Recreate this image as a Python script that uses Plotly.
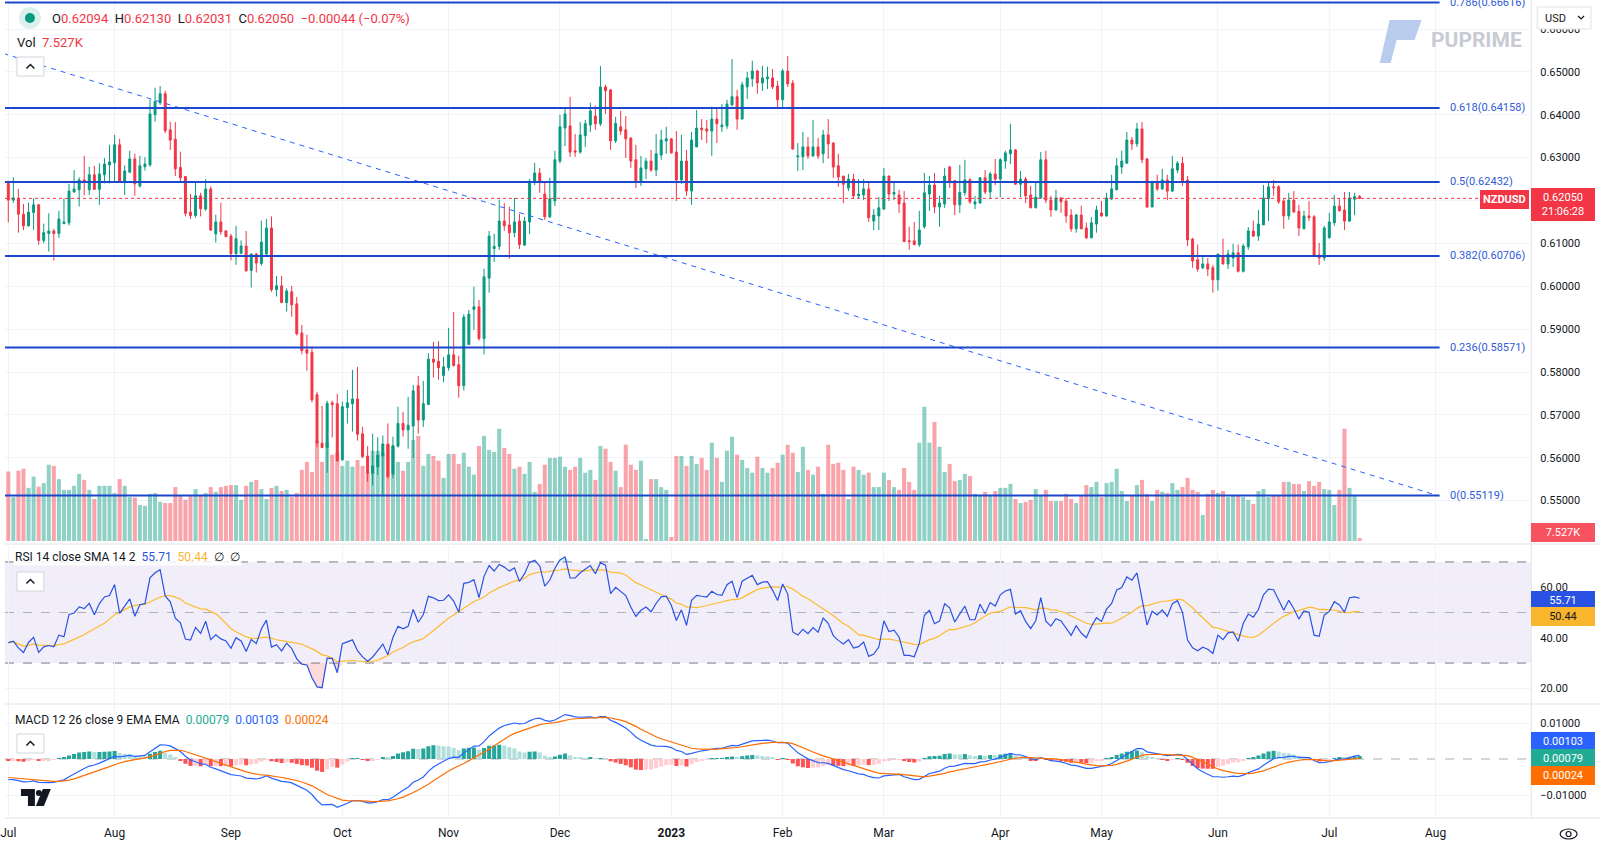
import numpy as np
import pandas as pd
import plotly.graph_objects as go

# NZD/USD daily candles, weekdays from 1 Jul 2022 to 11 Jul 2023
FIRST_DAY = "2022-07-01"
LAST_DAY = "2023-07-11"

OPEN = [
    0.6240, 0.6201, 0.6205, 0.6168, 0.6141, 0.6172, 0.6190, 0.6107, 0.6123, 0.6129,
    0.6123, 0.6146, 0.6148, 0.6220, 0.6225, 0.6248, 0.6225, 0.6260, 0.6226, 0.6260,
    0.6283, 0.6288, 0.6330, 0.6242, 0.6266, 0.6297, 0.6234, 0.6279, 0.6283, 0.6400,
    0.6428, 0.6449, 0.6365, 0.6343, 0.6277, 0.6256, 0.6173, 0.6165, 0.6211, 0.6180,
    0.6227, 0.6122, 0.6150, 0.6129, 0.6117, 0.6076, 0.6077, 0.6094, 0.6037, 0.6075,
    0.6053, 0.6075, 0.6136, 0.5992, 0.6001, 0.5962, 0.5987, 0.5959, 0.5891, 0.5852,
    0.5846, 0.5747, 0.5634, 0.5624, 0.5728, 0.5726, 0.5595, 0.5717, 0.5726, 0.5737,
    0.5656, 0.5604, 0.5564, 0.5579, 0.5604, 0.5632, 0.5562, 0.5627, 0.5680, 0.5665,
    0.5674, 0.5768, 0.5688, 0.5724, 0.5830, 0.5825, 0.5792, 0.5810, 0.5840, 0.5817,
    0.5768, 0.5864, 0.5946, 0.5952, 0.5878, 0.6019, 0.6088, 0.6093, 0.6152, 0.6143,
    0.6125, 0.6152, 0.6096, 0.6150, 0.6243, 0.6264, 0.6215, 0.6162, 0.6199, 0.6292,
    0.6369, 0.6374, 0.6316, 0.6313, 0.6351, 0.6376, 0.6397, 0.6379, 0.6465, 0.6458,
    0.6339, 0.6372, 0.6365, 0.6346, 0.6295, 0.6243, 0.6274, 0.6292, 0.6271, 0.6306,
    0.6339, 0.6344, 0.6313, 0.6248, 0.6292, 0.6222, 0.6325, 0.6369, 0.6367, 0.6362,
    0.6390, 0.6372, 0.6374, 0.6423, 0.6442, 0.6390, 0.6465, 0.6484, 0.6502, 0.6474,
    0.6484, 0.6486, 0.6467, 0.6435, 0.6502, 0.6474, 0.6302, 0.6302, 0.6325, 0.6304,
    0.6325, 0.6309, 0.6353, 0.6334, 0.6281, 0.6257, 0.6229, 0.6250, 0.6211, 0.6213,
    0.6227, 0.6152, 0.6164, 0.6180, 0.6257, 0.6215, 0.6213, 0.6194, 0.6106, 0.6106,
    0.6097, 0.6139, 0.6215, 0.6236, 0.6185, 0.6192, 0.6278, 0.6246, 0.6190, 0.6218,
    0.6248, 0.6192, 0.6194, 0.6253, 0.6220, 0.6262, 0.6250, 0.6292, 0.6309, 0.6318,
    0.6238, 0.6250, 0.6213, 0.6183, 0.6206, 0.6295, 0.6201, 0.6178, 0.6206, 0.6199,
    0.6166, 0.6134, 0.6166, 0.6136, 0.6113, 0.6145, 0.6171, 0.6164, 0.6204, 0.6225,
    0.6278, 0.6287, 0.6341, 0.6332, 0.6367, 0.6297, 0.6185, 0.6241, 0.6227, 0.6248,
    0.6222, 0.6271, 0.6287, 0.6248, 0.6110, 0.6062, 0.6043, 0.6052, 0.6043, 0.6015,
    0.6068, 0.6052, 0.6066, 0.6078, 0.6035, 0.6092, 0.6129, 0.6117, 0.6143, 0.6204,
    0.6232, 0.6232, 0.6199, 0.6164, 0.6201, 0.6175, 0.6134, 0.6164, 0.6162, 0.6073,
    0.6066, 0.6113, 0.6148, 0.6187, 0.6178, 0.6152, 0.6203, 0.62094,
]
HIGH = [
    0.6246, 0.6254, 0.6227, 0.6192, 0.6195, 0.6205, 0.6192, 0.6146, 0.6170, 0.6134,
    0.6176, 0.6205, 0.6239, 0.6271, 0.6254, 0.6304, 0.6279, 0.6281, 0.6287, 0.6299,
    0.6330, 0.6353, 0.6344, 0.6282, 0.6316, 0.6309, 0.6304, 0.6301, 0.6435, 0.6463,
    0.6467, 0.6456, 0.6384, 0.6383, 0.6314, 0.6257, 0.6215, 0.6242, 0.6218, 0.6250,
    0.6233, 0.6167, 0.6195, 0.6131, 0.6122, 0.6141, 0.6107, 0.6129, 0.6077, 0.6078,
    0.6153, 0.6157, 0.6163, 0.6024, 0.6024, 0.5995, 0.6001, 0.5975, 0.5910, 0.5887,
    0.5857, 0.5754, 0.5721, 0.5733, 0.5733, 0.5749, 0.5731, 0.5758, 0.5805, 0.5812,
    0.5672, 0.5627, 0.5656, 0.5648, 0.5652, 0.5680, 0.5649, 0.5719, 0.5707, 0.5742,
    0.5770, 0.5791, 0.5779, 0.5844, 0.5870, 0.5872, 0.5835, 0.5903, 0.5940, 0.5838,
    0.5935, 0.5945, 0.5999, 0.5968, 0.6041, 0.6129, 0.6122, 0.6202, 0.6194, 0.6186,
    0.6206, 0.6169, 0.6162, 0.6250, 0.6288, 0.6276, 0.6243, 0.6253, 0.6316, 0.6400,
    0.6414, 0.6442, 0.6355, 0.6383, 0.6388, 0.6428, 0.6421, 0.6514, 0.6470, 0.6460,
    0.6395, 0.6409, 0.6397, 0.6346, 0.6330, 0.6304, 0.6299, 0.6318, 0.6355, 0.6365,
    0.6372, 0.6345, 0.6362, 0.6353, 0.6318, 0.6360, 0.6411, 0.6390, 0.6388, 0.6419,
    0.6416, 0.6425, 0.6435, 0.6530, 0.6458, 0.6477, 0.6500, 0.6526, 0.6505, 0.6514,
    0.6512, 0.6507, 0.6479, 0.6507, 0.6537, 0.6481, 0.6334, 0.6360, 0.6348, 0.6388,
    0.6346, 0.6365, 0.6390, 0.6336, 0.6309, 0.6257, 0.6262, 0.6262, 0.6250, 0.6250,
    0.6243, 0.6180, 0.6208, 0.6276, 0.6258, 0.6243, 0.6225, 0.6222, 0.6139, 0.6150,
    0.6176, 0.6264, 0.6257, 0.6264, 0.6211, 0.6276, 0.6281, 0.6248, 0.6283, 0.6295,
    0.6253, 0.6211, 0.6255, 0.6271, 0.6267, 0.6297, 0.6299, 0.6316, 0.6379, 0.6320,
    0.6269, 0.6255, 0.6234, 0.6241, 0.6313, 0.6316, 0.6211, 0.6225, 0.6208, 0.6206,
    0.6180, 0.6169, 0.6188, 0.6148, 0.6162, 0.6188, 0.6199, 0.6218, 0.6260, 0.6299,
    0.6316, 0.6360, 0.6348, 0.6381, 0.6383, 0.6299, 0.6246, 0.6260, 0.6274, 0.6260,
    0.6304, 0.6292, 0.6302, 0.6257, 0.6113, 0.6097, 0.6071, 0.6066, 0.6050, 0.6076,
    0.6111, 0.6085, 0.6099, 0.6097, 0.6099, 0.6138, 0.6153, 0.6178, 0.6236, 0.6243,
    0.6248, 0.6236, 0.6206, 0.6218, 0.6222, 0.6190, 0.6176, 0.6199, 0.6166, 0.6101,
    0.6141, 0.6171, 0.6213, 0.6206, 0.6220, 0.6220, 0.6218, 0.62130,
]
LOW = [
    0.6149, 0.6194, 0.6125, 0.6131, 0.6139, 0.6131, 0.6097, 0.6100, 0.6081, 0.6060,
    0.6113, 0.6145, 0.6142, 0.6218, 0.6186, 0.6212, 0.6213, 0.6225, 0.6190, 0.6240,
    0.6240, 0.6244, 0.6243, 0.6213, 0.6264, 0.6211, 0.6230, 0.6270, 0.6279, 0.6384,
    0.6423, 0.6357, 0.6318, 0.6257, 0.6244, 0.6163, 0.6157, 0.6160, 0.6163, 0.6176,
    0.6129, 0.6102, 0.6120, 0.6114, 0.6060, 0.6050, 0.6075, 0.6034, 0.5997, 0.6032,
    0.6048, 0.6074, 0.5987, 0.5976, 0.5961, 0.5941, 0.5929, 0.5885, 0.5841, 0.5803,
    0.5729, 0.5624, 0.5622, 0.5565, 0.5647, 0.5591, 0.5593, 0.5680, 0.5661, 0.5640,
    0.5599, 0.5544, 0.5535, 0.5560, 0.5513, 0.5552, 0.5552, 0.5624, 0.5649, 0.5621,
    0.5600, 0.5656, 0.5672, 0.5724, 0.5787, 0.5782, 0.5776, 0.5803, 0.5813, 0.5740,
    0.5757, 0.5863, 0.5898, 0.5873, 0.5841, 0.5985, 0.6057, 0.6085, 0.6129, 0.6064,
    0.6114, 0.6087, 0.6094, 0.6122, 0.6236, 0.6218, 0.6155, 0.6159, 0.6187, 0.6287,
    0.6327, 0.6302, 0.6302, 0.6309, 0.6325, 0.6360, 0.6365, 0.6374, 0.6402, 0.6318,
    0.6334, 0.6353, 0.6299, 0.6276, 0.6229, 0.6234, 0.6250, 0.6267, 0.6257, 0.6295,
    0.6309, 0.6310, 0.6199, 0.6239, 0.6211, 0.6190, 0.6325, 0.6341, 0.6334, 0.6304,
    0.6334, 0.6360, 0.6367, 0.6420, 0.6365, 0.6389, 0.6437, 0.6465, 0.6449, 0.6456,
    0.6460, 0.6460, 0.6414, 0.6416, 0.6465, 0.6319, 0.6269, 0.6271, 0.6297, 0.6302,
    0.6297, 0.6287, 0.6297, 0.6253, 0.6232, 0.6194, 0.6222, 0.6204, 0.6204, 0.6201,
    0.6150, 0.6131, 0.6131, 0.6178, 0.6199, 0.6201, 0.6171, 0.6103, 0.6085, 0.6096,
    0.6092, 0.6134, 0.6176, 0.6171, 0.6139, 0.6183, 0.6229, 0.6166, 0.6171, 0.6211,
    0.6192, 0.6180, 0.6193, 0.6215, 0.6204, 0.6236, 0.6208, 0.6274, 0.6285, 0.6237,
    0.6208, 0.6194, 0.6182, 0.6182, 0.6204, 0.6194, 0.6162, 0.6176, 0.6171, 0.6148,
    0.6127, 0.6125, 0.6133, 0.6110, 0.6112, 0.6125, 0.6162, 0.6162, 0.6201, 0.6224,
    0.6262, 0.6286, 0.6318, 0.6325, 0.6287, 0.6183, 0.6184, 0.6222, 0.6225, 0.6201,
    0.6220, 0.6264, 0.6234, 0.6094, 0.6043, 0.6034, 0.6040, 0.6024, 0.5985, 0.5990,
    0.6051, 0.6040, 0.6045, 0.6032, 0.6032, 0.6085, 0.6115, 0.6106, 0.6143, 0.6152,
    0.6211, 0.6192, 0.6134, 0.6155, 0.6172, 0.6117, 0.6133, 0.6152, 0.6068, 0.6050,
    0.6059, 0.6112, 0.6141, 0.6175, 0.6131, 0.6150, 0.6166, 0.62031,
]
CLOSE = [
    0.6201, 0.6206, 0.6168, 0.6141, 0.6173, 0.6190, 0.6107, 0.6125, 0.6129, 0.6123,
    0.6157, 0.6150, 0.6222, 0.6227, 0.6248, 0.6243, 0.6260, 0.6226, 0.6262, 0.6285,
    0.6290, 0.6330, 0.6245, 0.6269, 0.6297, 0.6239, 0.6281, 0.6285, 0.6402, 0.6431,
    0.6449, 0.6363, 0.6341, 0.6274, 0.6253, 0.6170, 0.6165, 0.6211, 0.6181, 0.6227,
    0.6131, 0.6150, 0.6127, 0.6116, 0.6076, 0.6111, 0.6094, 0.6036, 0.6075, 0.6054,
    0.6103, 0.6136, 0.5992, 0.6001, 0.5962, 0.5989, 0.5957, 0.5889, 0.5850, 0.5844,
    0.5735, 0.5634, 0.5624, 0.5727, 0.5724, 0.5593, 0.5719, 0.5728, 0.5737, 0.5655,
    0.5603, 0.5564, 0.5581, 0.5606, 0.5632, 0.5556, 0.5628, 0.5680, 0.5665, 0.5676,
    0.5756, 0.5688, 0.5726, 0.5830, 0.5823, 0.5810, 0.5812, 0.5840, 0.5815, 0.5768,
    0.5928, 0.5935, 0.5952, 0.5878, 0.6022, 0.6117, 0.6093, 0.6152, 0.6141, 0.6125,
    0.6150, 0.6097, 0.6152, 0.6245, 0.6264, 0.6243, 0.6162, 0.6204, 0.6295, 0.6372,
    0.6402, 0.6313, 0.6313, 0.6353, 0.6379, 0.6409, 0.6379, 0.6465, 0.6456, 0.6339,
    0.6380, 0.6362, 0.6344, 0.6292, 0.6246, 0.6276, 0.6292, 0.6271, 0.6309, 0.6341,
    0.6344, 0.6311, 0.6248, 0.6292, 0.6222, 0.6341, 0.6369, 0.6365, 0.6362, 0.6390,
    0.6379, 0.6376, 0.6425, 0.6442, 0.6390, 0.6470, 0.6486, 0.6502, 0.6474, 0.6486,
    0.6488, 0.6465, 0.6435, 0.6502, 0.6472, 0.6320, 0.6304, 0.6325, 0.6304, 0.6325,
    0.6304, 0.6353, 0.6332, 0.6278, 0.6255, 0.6238, 0.6250, 0.6211, 0.6215, 0.6227,
    0.6160, 0.6166, 0.6183, 0.6257, 0.6215, 0.6219, 0.6192, 0.6104, 0.6104, 0.6097,
    0.6131, 0.6218, 0.6236, 0.6185, 0.6194, 0.6257, 0.6243, 0.6190, 0.6219, 0.6248,
    0.6197, 0.6197, 0.6253, 0.6220, 0.6262, 0.6250, 0.6295, 0.6311, 0.6318, 0.6238,
    0.6250, 0.6211, 0.6183, 0.6208, 0.6295, 0.6201, 0.6178, 0.6206, 0.6197, 0.6164,
    0.6134, 0.6166, 0.6134, 0.6113, 0.6148, 0.6178, 0.6164, 0.6206, 0.6227, 0.6281,
    0.6292, 0.6341, 0.6332, 0.6367, 0.6295, 0.6185, 0.6243, 0.6227, 0.6248, 0.6222,
    0.6274, 0.6287, 0.6243, 0.6108, 0.6059, 0.6040, 0.6052, 0.6040, 0.6015, 0.6075,
    0.6052, 0.6075, 0.6078, 0.6035, 0.6094, 0.6129, 0.6117, 0.6145, 0.6206, 0.6232,
    0.6230, 0.6197, 0.6164, 0.6201, 0.6173, 0.6136, 0.6164, 0.6160, 0.6071, 0.6066,
    0.6136, 0.6150, 0.6187, 0.6176, 0.6152, 0.6206, 0.6209, 0.62050,
]
# tick volume, thousands
VOLUME_K = [
    174, 110, 176, 181, 133, 161, 136, 145, 191, 188,
    155, 128, 128, 138, 168, 153, 128, 105, 138, 138,
    138, 120, 155, 138, 110, 109, 90, 88, 118, 120,
    98, 95, 95, 135, 115, 103, 113, 130, 113, 120,
    135, 123, 135, 138, 140, 140, 103, 138, 148, 153,
    130, 105, 133, 138, 125, 128, 110, 120, 178, 198,
    173, 251, 198, 248, 216, 221, 188, 201, 186, 203,
    188, 171, 226, 226, 221, 241, 238, 198, 176, 198,
    253, 263, 188, 218, 213, 201, 158, 218, 218, 193,
    221, 186, 166, 238, 263, 228, 223, 281, 233, 218,
    181, 186, 168, 198, 123, 143, 191, 208, 208, 211,
    186, 178, 186, 208, 171, 178, 153, 238, 231, 198,
    176, 135, 241, 191, 178, 201, 5, 155, 155, 135,
    128, 10, 213, 213, 188, 213, 193, 208, 178, 246,
    208, 148, 226, 261, 216, 203, 183, 171, 211, 183,
    171, 183, 196, 216, 241, 221, 173, 236, 178, 166,
    186, 118, 241, 193, 196, 178, 105, 186, 178, 166,
    171, 135, 135, 171, 153, 135, 128, 183, 148, 128,
    246, 336, 246, 298, 236, 173, 193, 150, 153, 168,
    163, 118, 115, 123, 115, 125, 133, 133, 143, 105,
    95, 98, 103, 130, 115, 128, 100, 100, 100, 118,
    105, 95, 115, 140, 135, 148, 110, 145, 148, 181,
    125, 100, 113, 140, 153, 118, 100, 128, 123, 120,
    145, 128, 135, 158, 128, 123, 65, 118, 128, 120,
    125, 110, 115, 115, 110, 103, 93, 125, 130, 110,
    115, 113, 148, 148, 143, 143, 125, 150, 138, 148,
    130, 128, 90, 128, 281, 133, 115, 7.527,
]

MONTH_STARTS = ["2022-07-01", "2022-08-01", "2022-09-01", "2022-10-01", "2022-11-01",
                "2022-12-01", "2023-01-01", "2023-02-01", "2023-03-01", "2023-04-01",
                "2023-05-01", "2023-06-01", "2023-07-01", "2023-08-01"]
MONTH_LABELS = ["Jul", "Aug", "Sep", "Oct", "Nov", "Dec", "<b>2023</b>", "Feb", "Mar",
                "Apr", "May", "Jun", "Jul", "Aug"]

FIB_RATIOS = [0.786, 0.618, 0.5, 0.382, 0.236, 0]
FIB_PRICES = [0.66616, 0.64158, 0.62432, 0.60706, 0.58571, 0.55119]
FIB_END_BAR = 282.8

TREND_BARS = [-1, 282.6]
TREND_PRICES = [0.6543, 0.5511]

PRICE_TICKS = [0.55, 0.56, 0.57, 0.58, 0.59, 0.60, 0.61, 0.62, 0.63, 0.64, 0.65, 0.66]
HIDDEN_PRICE_TICKS = [0.62]  # sits under the last-price tag
RSI_TICKS = [20, 40, 60]
MACD_TICKS = [-0.01, 0.01]

RSI_SEED_GAIN, RSI_SEED_LOSS = 0.0016, 0.0026
EMA12_SEED, EMA26_SEED, SIGNAL_SEED = 0.6276, 0.6331, -0.0050

# last values printed in the pane headers / scale tags
LAST_RSI, LAST_RSI_MA = "55.71", "50.44"
LAST_HIST, LAST_MACD, LAST_SIGNAL = "0.00079", "0.00103", "0.00024"

UP, DOWN = "#089981", "#F23645"
UP_VOL, DOWN_VOL = "rgba(8,153,129,0.45)", "rgba(242,54,69,0.45)"
FIB, FIB_TXT = "#1B47CC", "#2F5AD8"
GRID, TXT, BORDER = "#F0F3FA", "#131722", "#E0E3EB"
FONT = "Roboto, Arial, sans-serif"

W, H = 1600, 848


def px(x):
    return x / W


def py(y):
    return 1 - y / H


n = len(CLOSE)
bars = np.arange(n)
dates = pd.bdate_range(FIRST_DAY, LAST_DAY)
month_bars = [int(np.busday_count(FIRST_DAY, m)) for m in MONTH_STARTS]
close = np.array(CLOSE)
rising = np.array(CLOSE) >= np.array(OPEN)

# RSI 14 (Wilder) and its 14-bar SMA
g, l = RSI_SEED_GAIN, RSI_SEED_LOSS
rsi = []
for t in range(n):
    if t > 0:
        ch = close[t] - close[t - 1]
        g = (g * 13 + max(ch, 0)) / 14
        l = (l * 13 + max(-ch, 0)) / 14
    rsi.append(100 * g / (g + l))
rsi = np.array(rsi)
rsi_ma = pd.Series(rsi).rolling(14, min_periods=1).mean().values

# MACD 12 26 9
e12, e26, sig = EMA12_SEED, EMA26_SEED, SIGNAL_SEED
macd, signal = [], []
for c in close:
    e12 += (c - e12) * 2 / 13
    e26 += (c - e26) * 2 / 27
    m = e12 - e26
    sig += (m - sig) * 2 / 10
    macd.append(m)
    signal.append(sig)
macd, signal = np.array(macd), np.array(signal)
hist = macd - signal
hist_colors = []
for t in range(n):
    prev = hist[t - 1] if t > 0 else hist[t]
    if hist[t] >= 0:
        hist_colors.append("#26A69A" if hist[t] > prev else "#B2DFDB")
    else:
        hist_colors.append("#FFCDD2" if hist[t] > prev else "#FF5252")

XD = px(1531)
XR = [-0.65, 300.9]
MAIN = [py(541), 1]
RSI_D = [py(703), py(546)]
MACD_D = [py(818), py(704)]

fig = go.Figure()

fig.add_trace(go.Bar(x=bars, y=VOLUME_K, xaxis="x", yaxis="y",
                     marker=dict(color=[UP_VOL if r else DOWN_VOL for r in rising], line=dict(width=0)),
                     hoverinfo="skip"))
fig.add_trace(go.Candlestick(
    x=bars, open=OPEN, high=HIGH, low=LOW, close=CLOSE, xaxis="x", yaxis="y2",
    increasing=dict(line=dict(color=UP, width=1), fillcolor=UP),
    decreasing=dict(line=dict(color=DOWN, width=1), fillcolor=DOWN),
    whiskerwidth=0, text=[d.strftime("%d %b %Y") for d in dates]))
fig.add_trace(go.Scatter(x=TREND_BARS, y=TREND_PRICES, xaxis="x", yaxis="y2", mode="lines",
                         line=dict(color="#2962FF", width=1, dash="5px,5px"), hoverinfo="skip"))

# RSI pane
fig.add_trace(go.Scatter(x=bars, y=np.full(n, 30.0), xaxis="x2", yaxis="y3", mode="lines",
                         line=dict(width=0), hoverinfo="skip"))
fig.add_trace(go.Scatter(x=bars, y=np.minimum(rsi, 30), xaxis="x2", yaxis="y3", mode="lines",
                         line=dict(width=0), fill="tonexty", fillcolor="rgba(242,54,69,0.18)",
                         hoverinfo="skip"))
fig.add_trace(go.Scatter(x=bars, y=np.full(n, 70.0), xaxis="x2", yaxis="y3", mode="lines",
                         line=dict(width=0), hoverinfo="skip"))
fig.add_trace(go.Scatter(x=bars, y=np.maximum(rsi, 70), xaxis="x2", yaxis="y3", mode="lines",
                         line=dict(width=0), fill="tonexty", fillcolor="rgba(8,153,129,0.18)",
                         hoverinfo="skip"))
fig.add_trace(go.Scatter(x=bars, y=rsi_ma, xaxis="x2", yaxis="y3", mode="lines",
                         line=dict(color="#FDBB2D", width=1.2)))
fig.add_trace(go.Scatter(x=bars, y=rsi, xaxis="x2", yaxis="y3", mode="lines",
                         line=dict(color="#2952E3", width=1.2)))

# MACD pane
fig.add_trace(go.Bar(x=bars, y=hist, xaxis="x3", yaxis="y4",
                     marker=dict(color=hist_colors, line=dict(width=0))))
fig.add_trace(go.Scatter(x=bars, y=macd, xaxis="x3", yaxis="y4", mode="lines",
                         line=dict(color="#2962FF", width=1.2)))
fig.add_trace(go.Scatter(x=bars, y=signal, xaxis="x3", yaxis="y4", mode="lines",
                         line=dict(color="#FF6D00", width=1.2)))

axis_font = dict(family=FONT, size=11, color=TXT)
xcommon = dict(range=XR, domain=[0, XD], tickvals=month_bars, showgrid=True, gridcolor=GRID,
               zeroline=False, showline=False, ticks="")
ycommon = dict(side="right", showgrid=True, gridcolor=GRID, zeroline=False, ticks="",
               tickfont=axis_font, ticklabelstandoff=8, showline=False)

shapes = []
# Fibonacci levels, current price line
for p in FIB_PRICES:
    shapes.append(dict(type="line", xref="x", yref="y2", x0=XR[0], x1=FIB_END_BAR, y0=p, y1=p,
                       line=dict(color=FIB, width=2), layer="above"))
shapes.append(dict(type="line", xref="x", yref="y2", x0=XR[0], x1=290.9, y0=CLOSE[-1], y1=CLOSE[-1],
                   line=dict(color=DOWN, width=1, dash="dot"), layer="above"))
# RSI band and levels
shapes.append(dict(type="rect", xref="x2 domain", yref="y3", x0=0, x1=1, y0=30, y1=70,
                   fillcolor="rgba(126,87,194,0.1)", line=dict(width=0), layer="below"))
for lvl, col in [(70, "#787B86"), (50, "rgba(120,123,134,0.55)"), (30, "#787B86")]:
    shapes.append(dict(type="line", xref="x2 domain", yref="y3", x0=0, x1=1, y0=lvl, y1=lvl,
                       line=dict(color=col, width=1, dash="dash"), layer="below"))
shapes.append(dict(type="line", xref="x3 domain", yref="y4", x0=0, x1=1, y0=0, y1=0,
                   line=dict(color="#A9ACB5", width=1, dash="dash"), layer="below"))
# pane borders
for yy in (544, 704):
    shapes.append(dict(type="line", xref="paper", yref="paper", x0=0, x1=1, y0=py(yy), y1=py(yy),
                       line=dict(color=BORDER, width=1)))
shapes.append(dict(type="line", xref="paper", yref="paper", x0=XD, x1=XD, y0=py(818), y1=1,
                   line=dict(color=BORDER, width=1)))
shapes.append(dict(type="line", xref="paper", yref="paper", x0=0, x1=1, y0=py(818), y1=py(818),
                   line=dict(color=BORDER, width=1)))


def paper_path(points, close_path=True):
    s = " ".join(("M" if i == 0 else "L") + f" {px(x):.5f},{py(y):.5f}" for i, (x, y) in enumerate(points))
    return s + (" Z" if close_path else "")


# collapse buttons
for top in (57, 572, 734):
    shapes.append(dict(type="rect", xref="paper", yref="paper", x0=px(12), x1=px(39),
                       y0=py(top + 19), y1=py(top), line=dict(color="#D1D4DC", width=1),
                       fillcolor="white"))
    shapes.append(dict(type="path", xref="paper", yref="paper",
                       path=paper_path([(21.5, top + 11.5), (25.5, top + 7.5), (29.5, top + 11.5)], False),
                       line=dict(color=TXT, width=1.5)))
# header status dot
shapes.append(dict(type="circle", xref="paper", yref="paper", x0=px(14), x1=px(36), y0=py(29), y1=py(7),
                   fillcolor="rgba(8,153,129,0.15)", line=dict(width=0)))
shapes.append(dict(type="circle", xref="paper", yref="paper", x0=px(20), x1=px(30), y0=py(23), y1=py(13),
                   fillcolor=UP, line=dict(width=0)))
# watermark logo
shapes.append(dict(type="path", xref="paper", yref="paper",
                   path=paper_path([(1379, 63), (1389, 20), (1421, 20), (1414, 40), (1396, 40), (1390, 63)]),
                   fillcolor="#B9CCEE", line=dict(width=0)))
# currency box
shapes.append(dict(type="rect", xref="paper", yref="paper", x0=px(1537), x1=px(1591), y0=py(29), y1=py(7),
                   fillcolor="white", line=dict(color=BORDER, width=1)))
shapes.append(dict(type="path", xref="paper", yref="paper",
                   path=paper_path([(1578, 16), (1581, 19), (1584, 16)], False), line=dict(color=TXT, width=1.2)))
# TradingView mark
shapes.append(dict(type="path", xref="paper", yref="paper",
                   path=paper_path([(16, 789), (30, 789), (30, 806), (23, 806), (23, 796), (16, 796)]),
                   fillcolor="#131722", line=dict(width=0)))
shapes.append(dict(type="circle", xref="paper", yref="paper", x0=px(31), x1=px(37), y0=py(796), y1=py(790),
                   fillcolor="#131722", line=dict(width=0)))
shapes.append(dict(type="path", xref="paper", yref="paper",
                   path=paper_path([(38, 789), (46, 789), (39, 806), (31, 806)]),
                   fillcolor="#131722", line=dict(width=0)))
# eye icon
shapes.append(dict(type="circle", xref="paper", yref="paper", x0=px(1560), x1=px(1577), y0=py(839), y1=py(829),
                   line=dict(color=TXT, width=1.2)))
shapes.append(dict(type="circle", xref="paper", yref="paper", x0=px(1566), x1=px(1571), y0=py(836.5), y1=py(831.5),
                   line=dict(color=TXT, width=1.2)))

ann = []
for r, p in zip(FIB_RATIOS, FIB_PRICES):
    ann.append(dict(xref="x", yref="y2", x=284.4, y=p, xanchor="left", yanchor="middle", showarrow=False,
                    text=f"{r:g}({p:.5f})", font=dict(family=FONT, size=11, color=FIB_TXT)))


def sp(text, color):
    return f"<span style='color:{color}'>{text}</span>"


change = CLOSE[-1] - OPEN[-1]
header = "\u00a0\u00a0".join([
    sp("O", TXT) + sp(f"{OPEN[-1]:.5f}", DOWN),
    sp("H", TXT) + sp(f"{HIGH[-1]:.5f}", DOWN),
    sp("L", TXT) + sp(f"{LOW[-1]:.5f}", DOWN),
    sp("C", TXT) + sp(f"{CLOSE[-1]:.5f}", DOWN),
    sp(f"\u2212{abs(change):.5f} (\u2212{abs(change) / OPEN[-1] * 100:.2f}%)", DOWN),
])
ann += [
    dict(xref="paper", yref="paper", x=px(45), y=py(19), xanchor="left", yanchor="middle", showarrow=False,
         text=header, font=dict(family=FONT, size=13, color=TXT)),
    dict(xref="paper", yref="paper", x=px(10), y=py(42), xanchor="left", yanchor="middle", showarrow=False,
         text=sp("Vol", TXT) + "\u00a0\u00a0" + sp(f"{VOLUME_K[-1]:.3f}K", DOWN),
         font=dict(family=FONT, size=13, color=TXT)),
    dict(xref="paper", yref="paper", x=px(8), y=py(557), xanchor="left", yanchor="middle", showarrow=False,
         text=sp("RSI 14 close SMA 14 2", TXT) + "\u00a0\u00a0" + sp(LAST_RSI, "#2952E3") + "\u00a0\u00a0"
         + sp(LAST_RSI_MA, "#F9B52B") + "\u00a0\u00a0" + sp("\u2205", TXT) + "\u00a0\u00a0" + sp("\u2205", TXT),
         bgcolor="rgba(255,255,255,0.85)", font=dict(family=FONT, size=12, color=TXT)),
    dict(xref="paper", yref="paper", x=px(8), y=py(720), xanchor="left", yanchor="middle", showarrow=False,
         text=sp("MACD 12 26 close 9 EMA EMA", TXT) + "\u00a0\u00a0" + sp(LAST_HIST, "#22AB94") + "\u00a0\u00a0"
         + sp(LAST_MACD, "#2962FF") + "\u00a0\u00a0" + sp(LAST_SIGNAL, "#FF6D00"),
         bgcolor="rgba(255,255,255,0.85)", font=dict(family=FONT, size=12, color=TXT)),
    dict(xref="paper", yref="paper", x=px(1476), y=py(40), xanchor="center", yanchor="middle", showarrow=False,
         text="<b>PUPRIME</b>", font=dict(family=FONT, size=21, color="#C8CBD3")),
    dict(xref="paper", yref="paper", x=px(1543), y=py(18), xanchor="left", yanchor="middle", showarrow=False,
         text="USD", font=dict(family=FONT, size=11, color=TXT)),
]


def tag(y, text, bg, fg="white"):
    return dict(xref="paper", yref="paper", x=XD, y=py(y), xanchor="left", yanchor="middle", showarrow=False,
                text=text, bgcolor=bg, bordercolor=bg, borderpad=2, width=58, align="center",
                font=dict(family=FONT, size=11, color=fg))


ann += [
    tag(205, f"{CLOSE[-1]:.5f}<br>21:06:28", DOWN),
    tag(532, f"{VOLUME_K[-1]:.3f}K", "#F7525F"),
    tag(600, LAST_RSI, "#2952E3"),
    tag(616, LAST_RSI_MA, "#F9B52B", TXT),
    tag(741, LAST_MACD, "#2962FF"),
    tag(758, LAST_HIST, "#22AB94"),
    tag(775, LAST_SIGNAL, "#FF6D00"),
    dict(xref="paper", yref="paper", x=px(1480), y=py(199), xanchor="left", yanchor="middle", showarrow=False,
         text="<b>NZDUSD</b>", bgcolor=DOWN, bordercolor=DOWN, borderpad=2,
         font=dict(family=FONT, size=11, color="white")),
]

fig.update_layout(
    width=W, height=H, margin=dict(l=0, r=0, t=0, b=0),
    paper_bgcolor="white", plot_bgcolor="white",
    font=dict(family=FONT, size=11, color=TXT),
    showlegend=False, bargap=0.2, boxgap=0.45, hovermode="x",
    xaxis=dict(xcommon, anchor="y", showticklabels=False, rangeslider=dict(visible=False)),
    xaxis2=dict(xcommon, anchor="y3", matches="x", showticklabels=False),
    xaxis3=dict(xcommon, anchor="y4", matches="x", ticktext=MONTH_LABELS, ticklabeloverflow="allow",
                tickfont=dict(family=FONT, size=12, color=TXT), ticklabelstandoff=6),
    yaxis=dict(domain=MAIN, range=[0, 1354], visible=False, fixedrange=True),
    yaxis2=dict(ycommon, overlaying="y", anchor="x", range=[0.54058, 0.66677], tickvals=PRICE_TICKS,
                ticktext=["" if v in HIDDEN_PRICE_TICKS else f"{v:.5f}" for v in PRICE_TICKS]),
    yaxis3=dict(ycommon, domain=RSI_D, anchor="x2", range=[14.2, 76.3], tickvals=RSI_TICKS,
                ticktext=[f"{v:.2f}" for v in RSI_TICKS]),
    yaxis4=dict(ycommon, domain=MACD_D, anchor="x3", range=[-0.01639, 0.01528], tickvals=MACD_TICKS,
                ticktext=["\u22120.01000", "0.01000"]),
    shapes=shapes, annotations=ann,
)

# the page body has a default margin; drop it so the figure sits flush in the window
fig.write_html("out.html", config={"displayModeBar": False},
               post_script="document.body.style.margin='0';document.body.style.overflow='hidden';")
